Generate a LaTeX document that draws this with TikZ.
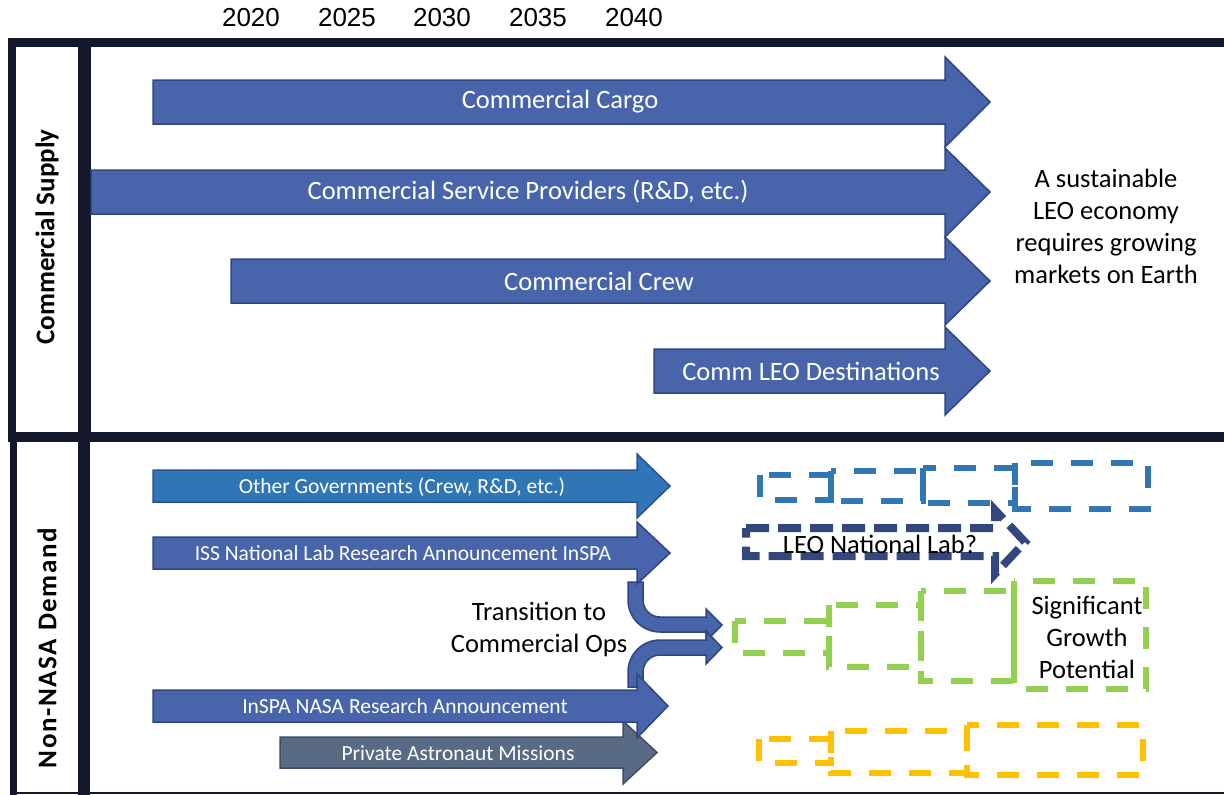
\documentclass[tikz,border=0pt]{standalone}
\usepackage{fontspec}
\setmainfont{Carlito}
\newfontfamily\yearfont{Liberation Sans}
\definecolor{framecol}{RGB}{20,23,42}
\definecolor{arrowfill}{RGB}{72,101,172}
\definecolor{arrowline}{RGB}{47,70,130}
\definecolor{govfill}{RGB}{48,117,181}
\definecolor{govline}{RGB}{42,82,142}
\definecolor{pafill}{RGB}{88,106,132}
\definecolor{paline}{RGB}{62,76,102}
\definecolor{leonavy}{RGB}{50,72,125}
\definecolor{dashblue}{RGB}{50,118,180}
\definecolor{dashgreen}{RGB}{146,208,80}
\definecolor{dashyellow}{RGB}{255,192,0}
\begin{document}
\begin{tikzpicture}[x=1pt,y=-1pt,
  bar/.style={fill=framecol,draw=none},
  barrow/.style={fill=arrowfill,draw=arrowline,line width=1.5pt,line join=miter},
  govarrow/.style={fill=govfill,draw=govline,line width=1.5pt,line join=miter},
  paarrow/.style={fill=pafill,draw=paline,line width=1.5pt,line join=miter},
  toplbl/.style={text=white,inner sep=0pt,font=\fontsize{26.5}{31}\selectfont},
  lowlbl/.style={text=white,inner sep=0pt,font=\fontsize{21.5}{25}\selectfont},
  plaintxt/.style={text=black,inner sep=0pt,align=center,font=\fontsize{26.5}{32}\selectfont},
  yearlbl/.style={text=black,inner sep=0pt,font=\yearfont\fontsize{26}{30}\selectfont},
  sidelbl/.style={text=black,inner sep=0pt,rotate=90,font=\bfseries\fontsize{27}{30}\selectfont},
  dashbox/.style={line width=6pt,dash pattern=on 22pt off 18pt},
  leoarrow/.style={draw=leonavy,line width=8pt,dash pattern=on 23pt off 9pt,line join=miter}]
\useasboundingbox (0,0) rectangle (1224,795);

% timeline years
\foreach \yr/\xx in {2020/251,2025/347,2030/442,2035/538,2040/634}
  \node[yearlbl] (y\yr) at (\xx,18) {\yr};

% frame bars
\fill[bar] (8,38) rectangle (1224,47);
\fill[bar] (8,38) rectangle (16,440);
\fill[bar] (78,38) rectangle (91,440);
\fill[bar] (8,432) rectangle (1224,442);
\fill[bar] (10,432) rectangle (17,795);
\fill[bar] (78,432) rectangle (90,795);
\fill[bar] (10,792) rectangle (1224,794);

\node[sidelbl] (supply) at (47,237) {Commercial Supply};
\node[sidelbl] (demand) at (47,648) {\addfontfeatures{LetterSpace=6}Non-NASA Demand};

% commercial supply arrows
\draw[barrow] (153,80) -- (945,80) -- (945,57) -- (990,102) -- (945,147) -- (945,124) -- (153,124) -- cycle;
\draw[barrow] (91,170) -- (945,170) -- (945,148) -- (990,192) -- (945,237) -- (945,214) -- (91,214) -- cycle;
\draw[barrow] (231,259) -- (945,259) -- (945,237) -- (990,281) -- (945,325) -- (945,303) -- (231,303) -- cycle;
\draw[barrow] (654,349) -- (945,349) -- (945,327) -- (990,371) -- (945,415) -- (945,393) -- (654,393) -- cycle;
\node[toplbl] (cargo) at (560,102) {Commercial Cargo};
\node[toplbl] (csp) at (528,192) {Commercial Service Providers (R\&D, etc.)};
\node[toplbl] (crew) at (599,281) {Commercial Crew};
\node[toplbl] (cleo) at (811,371) {Comm LEO Destinations};

\node[plaintxt] (econ) at (1106,226) {A sustainable\\LEO economy\\requires growing\\markets on Earth};

% transition arrows
\draw[barrow] (628,582) -- (643,582) -- (643,600) .. controls (643,609.4) and (650.6,617) .. (660,617)
  -- (706,617) -- (706,609) -- (722,625) -- (706,641) -- (706,632) -- (660,632)
  .. controls (642.3,632) and (628,617.7) .. (628,600) -- cycle;
\draw[barrow] (628,687) -- (628,672) .. controls (628,654.3) and (642.3,640) .. (660,640)
  -- (706,640) -- (706,631) -- (722,647.5) -- (706,664) -- (706,655) -- (660,655)
  .. controls (650.6,655) and (643,662.6) .. (643,672) -- (643,687) -- cycle;

% non-NASA demand arrows
\draw[govarrow] (153,470) -- (637,470) -- (637,454) -- (670,486) -- (637,518) -- (637,502) -- (153,502) -- cycle;
\draw[barrow] (153,537) -- (637,537) -- (637,522) -- (670,553) -- (637,584) -- (637,569) -- (153,569) -- cycle;
\draw[paarrow] (280,737) -- (623,737) -- (623,721) -- (657,752.5) -- (623,784) -- (623,768) -- (280,768) -- cycle;
\draw[barrow] (153,690) -- (637,690) -- (637,674) -- (668,706) -- (637,738) -- (637,722) -- (153,722) -- cycle;
\node[lowlbl] (gov) at (402,487) {Other Governments (Crew, R\&D, etc.)};
\node[lowlbl] (iss) at (403,553) {ISS National Lab Research Announcement InSPA};
\node[lowlbl] (inspa) at (405,706) {InSPA NASA Research Announcement};
\node[lowlbl] (pam) at (458,753) {Private Astronaut Missions};

\node[plaintxt] (trans) at (539,629) {Transition to\\Commercial Ops};

% LEO national lab (dashed arrow)
\draw[leoarrow] (746,528) -- (995,528) -- (995,510) -- (1025,542) -- (995,574) -- (995,556) -- (746,556) -- cycle;
\node[plaintxt] (leo) at (880,544) {LEO National Lab?};

% growth boxes
\draw[dashbox,draw=dashblue] (760,474.5) rectangle (830.5,499.5);
\draw[dashbox,draw=dashblue] (830.5,470.5) rectangle (923,500.5);
\draw[dashbox,draw=dashblue] (923,467.5) rectangle (1014.5,502.5);
\draw[dashbox,draw=dashblue] (1014.5,463) rectangle (1148,508.5);

\draw[dashbox,draw=dashgreen] (735,620.5) rectangle (828.5,652.5);
\draw[dashbox,draw=dashgreen] (828.5,604.5) rectangle (921,666.5);
\draw[dashbox,draw=dashgreen] (921,590.5) rectangle (1013.5,680.5);
\draw[dashbox,draw=dashgreen] (1013.5,580.5) rectangle (1146,688.5);
\node[plaintxt] (growth) at (1087,637) {Significant\\Growth\\Potential};

\draw[dashbox,draw=dashyellow] (759,739) rectangle (831,763);
\draw[dashbox,draw=dashyellow] (831,731) rectangle (967,773);
\draw[dashbox,draw=dashyellow] (967,725) rectangle (1143,775);
\end{tikzpicture}
\end{document}
